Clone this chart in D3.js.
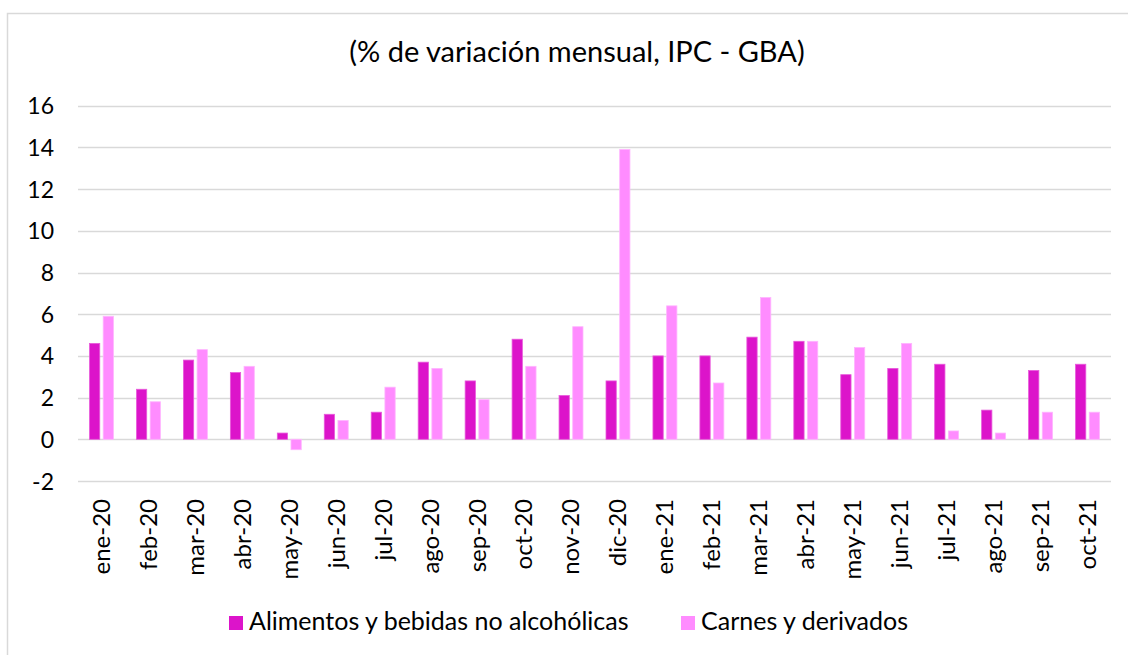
<!DOCTYPE html>
<html>
<head>
<meta charset="utf-8">
<script src="https://cdn.jsdelivr.net/npm/d3@7"></script>
<style>
  body { margin: 0; background: #fff; }
  #chart text { font-family: "Lato", "Noto Sans", sans-serif; fill: #000; }
</style>
</head>
<body>
<div id="chart"></div>
<script>
// data
var months = ["ene-20","feb-20","mar-20","abr-20","may-20","jun-20","jul-20","ago-20","sep-20","oct-20","nov-20","dic-20",
              "ene-21","feb-21","mar-21","abr-21","may-21","jun-21","jul-21","ago-21","sep-21","oct-21"];
var alimentos = [4.6, 2.4, 3.8, 3.2, 0.3, 1.2, 1.3, 3.7, 2.8, 4.8, 2.1, 2.8,
                 4.0, 4.0, 4.9, 4.7, 3.1, 3.4, 3.6, 1.4, 3.3, 3.6];
var carnes = [5.9, 1.8, 4.3, 3.5, -0.5, 0.9, 2.5, 3.4, 1.9, 3.5, 5.4, 13.9,
              6.4, 2.7, 6.8, 4.7, 4.4, 4.6, 0.4, 0.3, 1.3, 1.3];
var seriesNames = ["Alimentos y bebidas no alcohólicas", "Carnes y derivados"];
var yTicks = [-2, 0, 2, 4, 6, 8, 10, 12, 14, 16];

var width = 1128;
var height = 655;
var colors = ["#DC14CA", "#FF8CFF"];
var strokes = ["#E85ADB", "#FFB5FF"];

var svg = d3.select("#chart")
  .append("svg")
  .attr("width", width)
  .attr("height", height);

// outer frame
svg.append("rect")
  .attr("x", 7.5)
  .attr("y", 13.5)
  .attr("width", width + 20)
  .attr("height", height + 20)
  .attr("fill", "none")
  .attr("stroke", "#d9d9d9")
  .attr("stroke-width", 1.5);

// title
svg.append("text")
  .attr("x", 577)
  .attr("y", 62)
  .attr("text-anchor", "middle")
  .attr("font-size", 29)
  .text("(% de variación mensual, IPC - GBA)");

var plotLeft = 78, plotRight = 1111;

var xScale = d3.scaleBand()
  .domain(months)
  .range([plotLeft, plotRight])
  .paddingInner(0.49)
  .paddingOuter(0.245);

var inner = d3.scaleBand()
  .domain([0, 1])
  .range([0, xScale.bandwidth()])
  .paddingInner(0.25);

var yScale = d3.scaleLinear()
  .domain([-2, 16])
  .range([481, 105.7]);

// gridlines
svg.append("g")
  .attr("class", "grid")
  .selectAll("line")
  .data(yTicks)
  .enter()
  .append("line")
  .attr("x1", plotLeft)
  .attr("x2", plotRight)
  .attr("y1", function(d) { return Math.round(yScale(d)) + 0.5; })
  .attr("y2", function(d) { return Math.round(yScale(d)) + 0.5; })
  .attr("stroke", "#d9d9d9")
  .attr("stroke-width", 1.5);

// y axis labels
var yAxis = d3.axisLeft(yScale)
  .tickValues(yTicks)
  .tickFormat(function(d) { return String(d); })
  .tickSize(0)
  .tickPadding(0);
var yG = svg.append("g")
  .attr("transform", "translate(54,0)")
  .call(yAxis);
yG.select(".domain").remove();
yG.selectAll("text")
  .attr("font-size", 23)
  .attr("font-family", null)
  .attr("dy", "0.35em");

// bars
var allSeries = [alimentos, carnes];
allSeries.forEach(function(vals, si) {
  svg.append("g")
    .attr("class", "series" + si)
    .selectAll("rect")
    .data(vals)
    .enter()
    .append("rect")
    .attr("x", function(d, i) { return xScale(months[i]) + inner(si); })
    .attr("width", inner.bandwidth())
    .attr("y", function(d) { return yScale(Math.max(0, d)); })
    .attr("height", function(d) { return Math.abs(yScale(d) - yScale(0)); })
    .attr("fill", colors[si])
    .attr("stroke", strokes[si])
    .attr("stroke-width", 0.8);
});

// x labels (rotated)
var xAxis = d3.axisBottom(xScale).tickSize(0).tickPadding(0);
var xG = svg.append("g")
  .attr("transform", "translate(0,499)")
  .call(xAxis);
xG.select(".domain").remove();
xG.selectAll("text")
  .attr("font-size", 24)
  .attr("font-family", null)
  .attr("transform", "rotate(-90)")
  .attr("text-anchor", "end")
  .attr("x", 0)
  .attr("y", 0)
  .attr("dy", "0.35em");

// legend
var legendX = [229, 681];
var legend = svg.append("g").attr("class", "legend");
seriesNames.forEach(function(name, i) {
  legend.append("rect")
    .attr("x", legendX[i])
    .attr("y", 616)
    .attr("width", 14)
    .attr("height", 14)
    .attr("fill", colors[i]);
  legend.append("text")
    .attr("x", legendX[i] + 20)
    .attr("y", 630)
    .attr("font-size", 25)
    .text(name);
});
</script>
</body>
</html>
